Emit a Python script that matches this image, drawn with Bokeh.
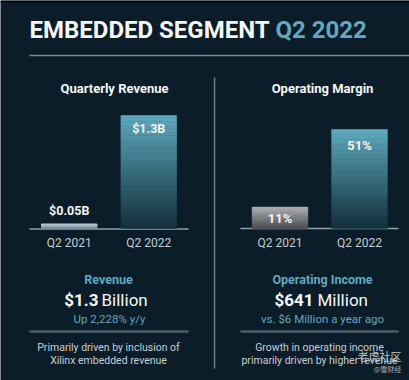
from bokeh.plotting import figure
from bokeh.models import Range1d, ColumnDataSource
from bokeh.core.properties import value
from bokeh.embed import file_html
from bokeh.resources import INLINE

# ---- data ----
quarters = ["Q2 2021", "Q2 2022"]
revenue_b = [0.05, 1.3]
revenue_labels = ["$0.05B", "$1.3B"]
margin_pct = [11, 51]
margin_labels = ["11%", "51%"]

# ---- styles / layout ----
BG = "#0b1d29"
WHITE = "#f4f6f7"
BLUE = "#62a8c0"
GREY_TXT = "#c6ced3"
FONT = "Roboto"
TEAL_BOT, TEAL_TOP = "#14303d", "#5eaabe"
GRAY_BOT, GRAY_TOP = "#4a4c4f", "#b0b1b3"
SMALL_BOT, SMALL_TOP = "#6c8592", "#b3c3ca"
W, H = 409, 380
BASE_Y = 228                 # baseline of both bar charts (px from top)
SLOT_PX = 79.5               # px per category slot
REV_FIRST_PX = 68.75         # centre of first revenue slot
MARGIN_FIRST_PX = 279.5      # centre of first margin slot
REV_PX_PER_UNIT = 113 / 1.3
MARGIN_PX_PER_UNIT = 99 / 51


def lerp_hex(c0, c1, t):
    a = [int(c0[i:i + 2], 16) for i in (1, 3, 5)]
    b = [int(c1[i:i + 2], 16) for i in (1, 3, 5)]
    return "#%02x%02x%02x" % tuple(int(round(a[k] + (b[k] - a[k]) * t)) for k in range(3))


p = figure(width=W, height=H, x_range=Range1d(0, W), y_range=Range1d(H, 0),
           output_backend="svg", toolbar_location=None, x_axis_location=None,
           y_axis_location=None, min_border=0,
           background_fill_color=BG, border_fill_color=BG, outline_line_color=None)
p.grid.visible = False


def slot_range(first_px):
    s = -first_px / SLOT_PX
    return Range1d(s, s + W / SLOT_PX)


p.extra_x_ranges = {"rev_x": slot_range(REV_FIRST_PX), "margin_x": slot_range(MARGIN_FIRST_PX)}
p.extra_y_ranges = {
    "rev": Range1d(-(H - BASE_Y) / REV_PX_PER_UNIT, BASE_Y / REV_PX_PER_UNIT),
    "margin": Range1d(-(H - BASE_Y) / MARGIN_PX_PER_UNIT, BASE_Y / MARGIN_PX_PER_UNIT),
}


def txt(x, y, s, size, color, bold=False, align="center", font=FONT):
    p.text(x=[x], y=[y], text=[s], text_font=value(font), text_font_size=f"{size}px",
           text_color=color, text_font_style="bold" if bold else "normal",
           text_align=align, text_baseline="middle")


def line(x0, y0, x1, y1, color, width):
    p.segment(x0=[x0], y0=[y0], x1=[x1], y1=[y1], line_color=color, line_width=width)


def bar_chart(xname, yname, vals, labels, offsets, bot_cols, top_cols, lbl_size, n=40):
    xs, bots, tops, cols = [], [], [], []
    for i_q, (v, cb, ct) in enumerate(zip(vals, bot_cols, top_cols)):
        for i in range(n):
            xs.append(i_q)
            bots.append(v * i / n)
            tops.append(v * (i + 1) / n)
            cols.append(lerp_hex(cb, ct, (i + 0.5) / n))
    p.vbar(x=xs, bottom=bots, top=tops, width=0.7, fill_color=cols, line_color=cols,
           line_width=0.6, x_range_name=xname, y_range_name=yname)
    idx = list(range(len(quarters)))
    src = ColumnDataSource(dict(x=idx, y=vals, t=labels, off=offsets))
    p.text(x="x", y="y", text="t", y_offset="off", source=src, text_font=value(FONT),
           text_font_size=f"{lbl_size}px", text_font_style="bold", text_color=WHITE,
           text_align="center", text_baseline="middle", x_range_name=xname, y_range_name=yname)
    # category (axis) labels under the baseline
    p.text(x=idx, y=[0] * len(idx), text=quarters, y_offset=[14] * len(idx),
           x_range_name=xname, y_range_name=yname, text_font=value(FONT),
           text_font_size="12px", text_color=GREY_TXT, text_align="center",
           text_baseline="middle")


# ---- top band ----
p.quad(left=[0], right=[W], top=[0], bottom=[2], fill_color="#02070a", line_color=None)
txt(29, 29, "EMBEDDED SEGMENT", 24, WHITE, bold=True, align="left")
txt(275, 29, "Q2 2022", 24, BLUE, bold=True, align="left")
line(29, 55, W, 55, "#7c8c95", 1.5)
txt(114, 88, "Quarterly Revenue", 13, WHITE, bold=True)
txt(322, 88, "Operating Margin", 13, WHITE, bold=True)
line(214, 77, 214, 368, "#6f8089", 1.5)

# ---- bar charts ----
line(29, BASE_Y + 0.5, 188, BASE_Y + 0.5, "#8ea2ac", 1.5)
line(240, BASE_Y, 398, BASE_Y, "#8ea2ac", 1.5)
bar_chart("rev_x", "rev", revenue_b, revenue_labels, [-14, 13],
          [SMALL_BOT, TEAL_BOT], [SMALL_TOP, TEAL_TOP], 12.5)
bar_chart("margin_x", "margin", margin_pct, margin_labels, [11, 16],
          [GRAY_BOT, TEAL_BOT], [GRAY_TOP, TEAL_TOP], 13)

# ---- bottom text, left ----
txt(108, 279, "Revenue", 12.5, BLUE, bold=True)
txt(98, 299, "$1.3", 17, WHITE, bold=True, align="right")
txt(101, 299, "Billion", 17, WHITE, align="left")
txt(109, 318, "Up 2,228% y/y", 11.5, BLUE)
line(29, 331, 188, 331, "#4a5e6a", 2.5)
txt(108, 347, "Primarily driven by inclusion of", 10.5, GREY_TXT)
txt(108, 360, "Xilinx embedded revenue", 10.5, GREY_TXT)

# ---- bottom text, right ----
txt(322, 279, "Operating Income", 12.5, BLUE, bold=True)
txt(313, 299, "$641", 17, WHITE, bold=True, align="right")
txt(317, 299, "Million", 17, WHITE, align="left")
txt(322, 318, "vs. $6 Million a year ago", 11.5, BLUE)
line(240, 331, 398, 331, "#4a5e6a", 2.5)
txt(319, 347, "Growth in operating income", 10.5, GREY_TXT)
txt(319, 360, "primarily driven by higher revenue", 10.5, GREY_TXT)
txt(379, 355, "老虎社区", 11, "#b9c0c4", font="Noto Sans CJK SC")
txt(387, 368, "@雪财经", 7, "#a9b0b4", font="Noto Sans CJK SC")

open("out.html", "w").write(file_html(p, INLINE))
